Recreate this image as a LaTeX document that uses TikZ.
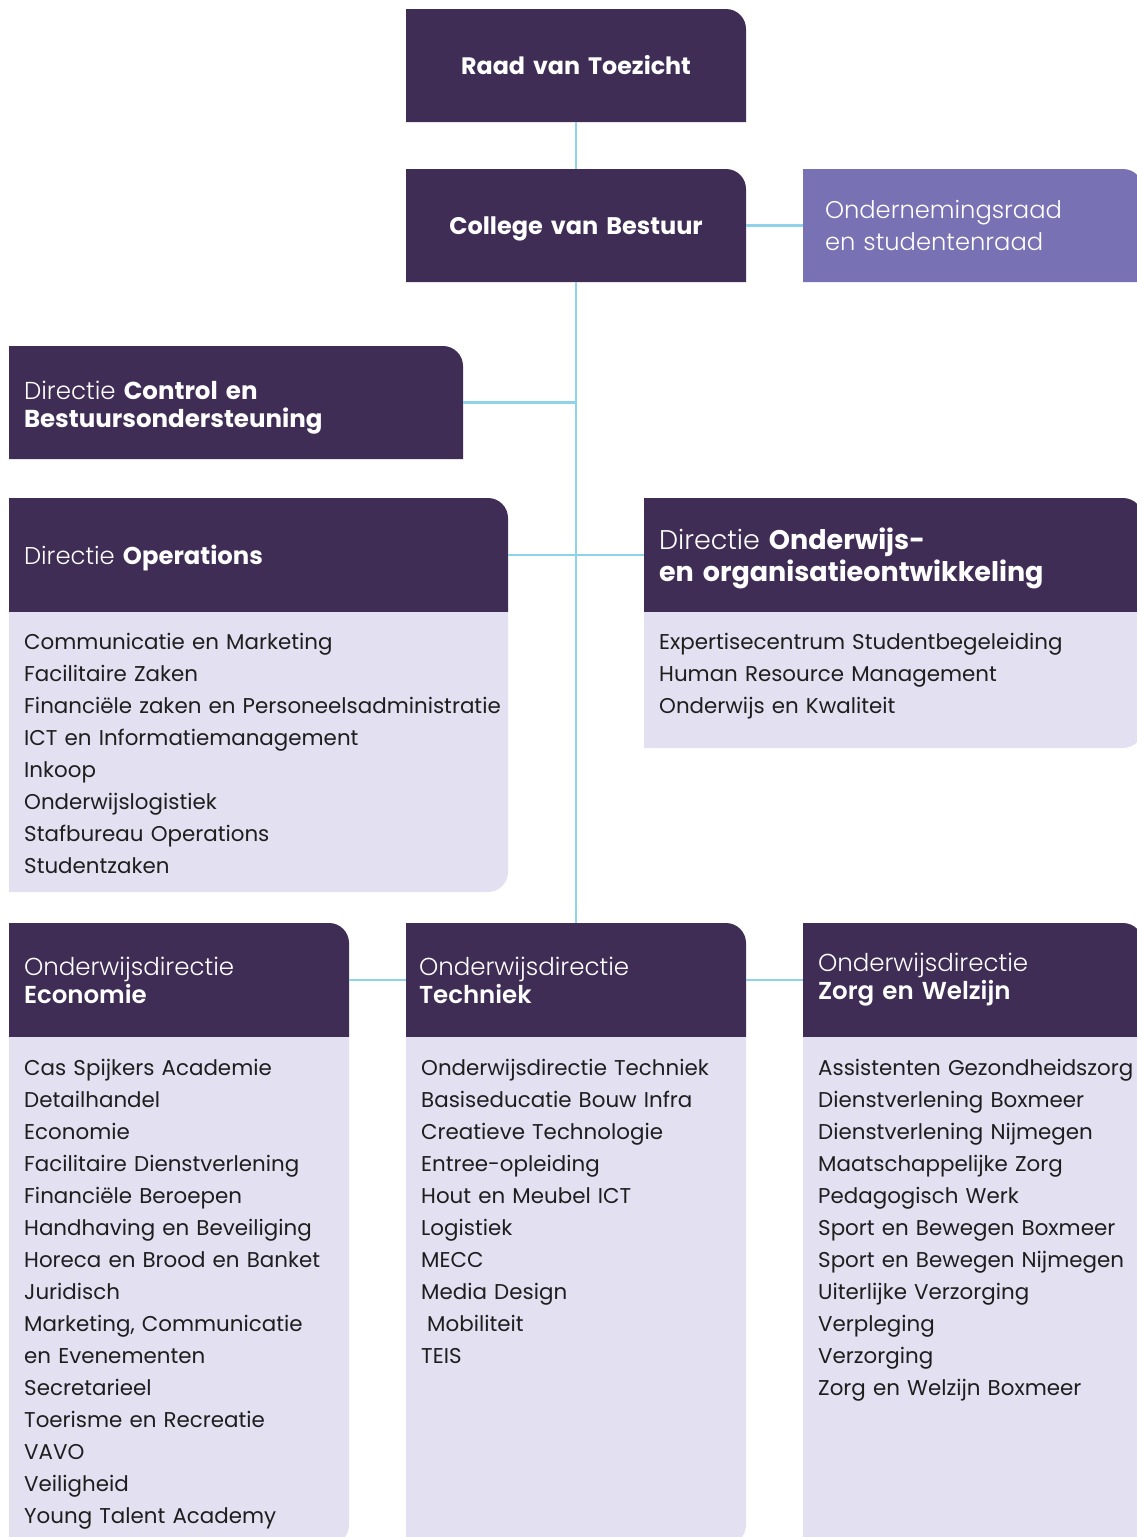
\documentclass[tikz,border=0pt]{standalone}
\usepackage{fontspec}
\setmainfont{Poppins}
\newfontfamily\lightfont{Poppins Light}
\definecolor{hdrc}{HTML}{3F2D56}
\definecolor{bodyc}{HTML}{E3E0F1}
\definecolor{orc}{HTML}{7872B5}
\definecolor{linec}{HTML}{8FD3EA}
\definecolor{textc}{HTML}{1E1E1E}
\newcommand\tabfill[5]{\fill[#5] (#1,-#4) -- (#1,-#2) -- ({#3-20},-#2) arc[start angle=90,end angle=0,radius=20pt] -- (#3,-#4) -- cycle;}
\newcommand\bodyfill[4]{\fill[bodyc] (#1,-#2) -- (#3,-#2) -- (#3,{-#4+20}) arc[start angle=0,end angle=-90,radius=20pt] -- (#1,-#4) -- cycle;}
\newcommand\lowerby[2]{\raisebox{-#1}[\height][\depth]{#2}}
\begin{document}
\begin{tikzpicture}[x=1pt,y=1pt,
  hdr/.style={rectangle, inner xsep=15pt, inner ysep=0pt, minimum height=113pt, text=white, align=left, font=\fontsize{24.5}{28}\selectfont},
  conn/.style={draw=linec, line width=2.5pt},
  lst/.style={anchor=base west, inner sep=0pt, text=textc, align=left, text width=520pt, font=\fontsize{21.4}{32}\selectfont}]
\useasboundingbox (0,0) rectangle (1137,-1537);
\begin{scope}
\clip (0,0) rectangle (1137,-1537);
\tabfill{406}{9}{746}{122}{hdrc}
\tabfill{406}{169}{746}{282}{hdrc}
\tabfill{803}{169}{1143}{282}{orc}
\tabfill{9}{346}{463}{459}{hdrc}
\tabfill{9}{498}{508}{612}{hdrc}
\bodyfill{9}{612}{508}{892}
\tabfill{644}{498}{1143}{612}{hdrc}
\bodyfill{644}{612}{1143}{748}
\tabfill{9}{923}{349}{1037}{hdrc}
\bodyfill{9}{1037}{349}{1545}
\tabfill{406}{923}{746}{1037}{hdrc}
\bodyfill{406}{1037}{746}{1545}
\tabfill{803}{923}{1143}{1037}{hdrc}
\bodyfill{803}{1037}{1143}{1545}
\end{scope}

\node[hdr, minimum width=340pt, text width=310pt, align=center, font=\fontsize{23.8}{28}\selectfont] (raad) at (576,-65.5) {\bfseries Raad van Toezicht};
\node[hdr, minimum width=340pt, text width=310pt, align=center, font=\fontsize{24}{28}\selectfont] (cvb) at (576,-225.5) {\lowerby{3pt}{\bfseries College van Bestuur}};
\node[hdr, minimum width=340pt, text width=296pt, inner xsep=22pt, font=\fontsize{24.2}{32}\selectfont] (or) at (973,-225.5) {\lightfont Ondernemingsraad\\\lightfont en studentenraad};
\node[hdr, minimum width=454pt, text width=424pt] (ctrl) at (236,-402.5) {\lowerby{5pt}{\parbox{424pt}{{\lightfont Directie} \textbf{Control en}\\\textbf{Bestuursondersteuning}}}};
\node[hdr, minimum width=499pt, text width=469pt, font=\fontsize{24.3}{28}\selectfont] (ops) at (258.5,-555) {\lowerby{3pt}{{\lightfont Directie} \textbf{Operations}}};
\node[hdr, minimum width=499pt, text width=469pt, font=\fontsize{27}{32}\selectfont] (onw) at (893.5,-555) {\lowerby{3pt}{\parbox{469pt}{{\lightfont Directie} \textbf{Onderwijs-}\\\textbf{en organisatieontwikkeling}}}};
\node[hdr, minimum width=340pt, text width=310pt] (eco) at (179,-980) {\lightfont Onderwijsdirectie\\\textbf{Economie}};
\node[hdr, minimum width=340pt, text width=314pt, inner xsep=13pt] (tech) at (576,-980) {\lightfont Onderwijsdirectie\\\textbf{Techniek}};
\node[hdr, minimum width=340pt, text width=310pt] (zorg) at (973,-980) {\lightfont Onderwijsdirectie\\\textbf{Zorg en Welzijn}};

\draw[conn] (raad) -- (cvb);
\draw[conn] (cvb) -- (or);
\draw[conn] (cvb) -- (tech);
\draw[conn] (ctrl.east) -- (ctrl.east -| cvb.south);
\draw[conn] (ops) -- (onw);
\draw[conn] (eco) -- (tech);
\draw[conn] (tech) -- (zorg);

\node[lst] (opslist) at (24,-649) {Communicatie en Marketing\\Facilitaire Zaken\\Financiële zaken en Personeelsadministratie\\ICT en Informatiemanagement\\Inkoop\\Onderwijslogistiek\\Stafbureau Operations\\Studentzaken};
\node[lst] (onwlist) at (659,-649) {Expertisecentrum Studentbegeleiding\\Human Resource Management\\Onderwijs en Kwaliteit};
\node[lst] (ecolist) at (24,-1075) {Cas Spijkers Academie\\Detailhandel\\Economie\\Facilitaire Dienstverlening\\Financiële Beroepen\\Handhaving en Beveiliging\\Horeca en Brood en Banket\\Juridisch\\Marketing, Communicatie\\en Evenementen\\Secretarieel\\Toerisme en Recreatie\\VAVO\\Veiligheid\\Young Talent Academy};
\node[lst] (techlist) at (421,-1075) {Onderwijsdirectie Techniek\\Basiseducatie Bouw Infra\\Creatieve Technologie\\Entree-opleiding\\Hout en Meubel ICT\\Logistiek\\MECC\\Media Design\\\hspace*{6pt}Mobiliteit\\TEIS};
\node[lst] (zorglist) at (818,-1075) {Assistenten Gezondheidszorg\\Dienstverlening Boxmeer\\Dienstverlening Nijmegen\\Maatschappelijke Zorg\\Pedagogisch Werk\\Sport en Bewegen Boxmeer\\Sport en Bewegen Nijmegen\\Uiterlijke Verzorging\\Verpleging\\Verzorging\\Zorg en Welzijn Boxmeer};
\end{tikzpicture}
\end{document}
